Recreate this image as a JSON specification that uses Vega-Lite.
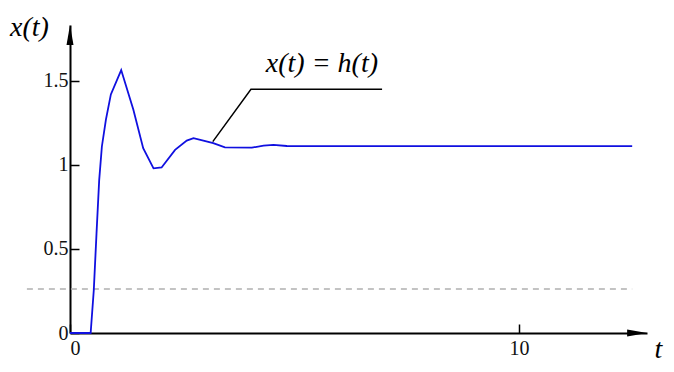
{
  "$schema": "https://vega.github.io/schema/vega-lite/v6.json",
  "autosize": {"type": "none"},
  "padding": {"left": 70, "top": 25, "right": 27, "bottom": 39},
  "width": 577,
  "height": 308,
  "background": "white",
  "config": {"view": {"stroke": null}},
  "datasets": {
    "curve": [
      {"t": 0, "v": 0}, {"t": 0.46, "v": 0}, {"t": 0.53, "v": 0.256}, {"t": 0.59, "v": 0.59},
      {"t": 0.65, "v": 0.91}, {"t": 0.71, "v": 1.11}, {"t": 0.8, "v": 1.27}, {"t": 0.91, "v": 1.42},
      {"t": 1.14, "v": 1.565}, {"t": 1.41, "v": 1.33}, {"t": 1.63, "v": 1.1}, {"t": 1.86, "v": 0.98},
      {"t": 2.04, "v": 0.985}, {"t": 2.34, "v": 1.09}, {"t": 2.6, "v": 1.145}, {"t": 2.75, "v": 1.16},
      {"t": 2.97, "v": 1.145}, {"t": 3.19, "v": 1.13}, {"t": 3.45, "v": 1.105}, {"t": 4.05, "v": 1.103},
      {"t": 4.31, "v": 1.115}, {"t": 4.53, "v": 1.12}, {"t": 4.83, "v": 1.113}, {"t": 5.35, "v": 1.112},
      {"t": 12.52, "v": 1.112}
    ],
    "dash": [{"t": -0.96, "v": 0.262}, {"t": 12.52, "v": 0.262}],
    "leader": [
      {"i": 1, "t": 3.18, "v": 1.139},
      {"i": 2, "t": 4.03, "v": 1.45},
      {"i": 3, "t": 6.95, "v": 1.45}
    ],
    "label": [{"t": 5.61, "v": 1.554, "text": "x(t) = h(t)"}],
    "arrows": [
      {"t": 12.63, "v": 0, "dir": "x"},
      {"t": 0, "v": 1.774, "dir": "y"}
    ]
  },
  "layer": [
    {
      "data": {"name": "dash"},
      "mark": {"type": "line", "color": "#b0b0b0", "strokeWidth": 1.5, "strokeDash": [6, 5], "clip": false},
      "encoding": {
        "x": {
          "field": "t", "type": "quantitative",
          "scale": {"domain": [0, 12.85], "nice": false, "zero": false},
          "axis": {
            "values": [0, 10],
            "labelExpr": "datum.value + ''",
            "grid": false,
            "domainColor": "black", "domainWidth": 2,
            "tickColor": "black", "tickWidth": 1.5, "tickSize": -9,
            "labelPadding": 14, "labelDx": 3,
            "labelFont": "Liberation Serif", "labelFontSize": 20, "labelColor": "#111",
            "title": "t",
            "titleFont": "Liberation Serif", "titleFontStyle": "italic", "titleFontWeight": "normal",
            "titleFontSize": 28, "titleColor": "black",
            "titleX": 588, "titleY": 24, "titleAlign": "center", "titleBaseline": "alphabetic", "titleAnchor": null
          }
        },
        "y": {
          "field": "v", "type": "quantitative",
          "scale": {"domain": [0, 1.833], "nice": false, "zero": false},
          "axis": {
            "values": [0, 0.5, 1, 1.5],
            "labelExpr": "datum.value + ''",
            "grid": false,
            "domainColor": "black", "domainWidth": 2,
            "tickColor": "black", "tickWidth": 1.5, "tickSize": -9,
            "labelPadding": 11,
            "labelFont": "Liberation Serif", "labelFontSize": 20, "labelColor": "#111",
            "title": "x(t)",
            "titleAngle": 0,
            "titleFont": "Liberation Serif", "titleFontStyle": "italic", "titleFontWeight": "normal",
            "titleFontSize": 28, "titleColor": "black",
            "titleX": -41, "titleY": 10, "titleAlign": "center", "titleBaseline": "alphabetic", "titleAnchor": null
          }
        }
      }
    },
    {
      "data": {"name": "curve"},
      "mark": {"type": "line", "color": "#1010e0", "strokeWidth": 1.8, "clip": false},
      "encoding": {
        "x": {"field": "t", "type": "quantitative"},
        "y": {"field": "v", "type": "quantitative"}
      }
    },
    {
      "data": {"name": "leader"},
      "mark": {"type": "line", "color": "black", "strokeWidth": 1.5},
      "encoding": {
        "x": {"field": "t", "type": "quantitative"},
        "y": {"field": "v", "type": "quantitative"},
        "order": {"field": "i"}
      }
    },
    {
      "data": {"name": "label"},
      "mark": {"type": "text", "font": "Liberation Serif", "fontStyle": "italic", "fontSize": 28, "align": "center", "baseline": "alphabetic", "color": "black"},
      "encoding": {
        "x": {"field": "t", "type": "quantitative"},
        "y": {"field": "v", "type": "quantitative"},
        "text": {"field": "text"}
      }
    },
    {
      "data": {"name": "arrows"},
      "transform": [{"filter": "datum.dir == 'x'"}],
      "mark": {"type": "point", "shape": "M-1,-0.35L1,0L-1,0.35Z", "size": 400, "filled": true, "color": "black", "opacity": 1, "clip": false},
      "encoding": {
        "x": {"field": "t", "type": "quantitative"},
        "y": {"field": "v", "type": "quantitative"}
      }
    },
    {
      "data": {"name": "arrows"},
      "transform": [{"filter": "datum.dir == 'y'"}],
      "mark": {"type": "point", "shape": "M-0.35,1L0,-1L0.35,1Z", "size": 400, "filled": true, "color": "black", "opacity": 1, "clip": false},
      "encoding": {
        "x": {"field": "t", "type": "quantitative"},
        "y": {"field": "v", "type": "quantitative"}
      }
    }
  ]
}
